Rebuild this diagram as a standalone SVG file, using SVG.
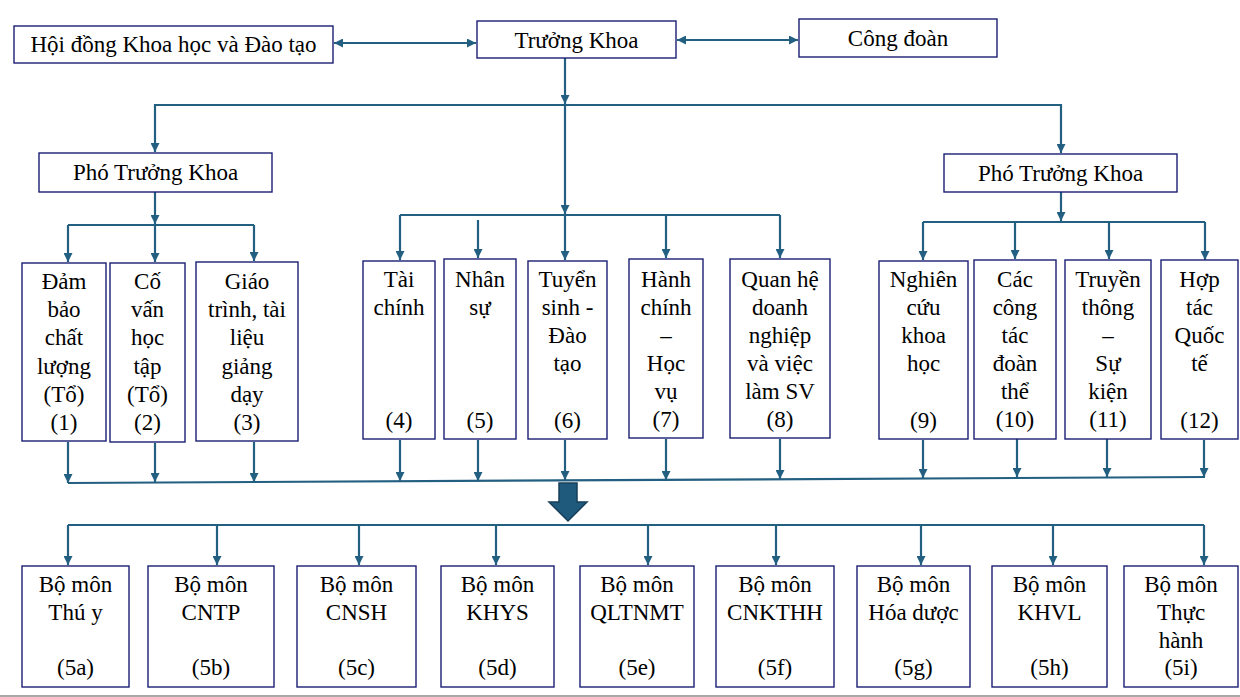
<svg xmlns="http://www.w3.org/2000/svg" width="1240" height="697" viewBox="0 0 1240 697">
<style>
.box{fill:#fff;stroke:#1b1f73;stroke-width:1.4}
.t{font-family:"Liberation Serif","Times New Roman",serif;font-size:23px;fill:#000;text-anchor:middle}
.c{fill:none;stroke:#235f80;stroke-width:2.2}
.ca{fill:none;stroke:#235f80;stroke-width:2.2;marker-end:url(#ah)}
</style>
<defs>
<marker id="ah" viewBox="0 0 10 10" refX="10" refY="5" markerWidth="9" markerHeight="9" markerUnits="userSpaceOnUse" orient="auto-start-reverse">
<path d="M0,0 L10,5 L0,10 z" fill="#235f80"/>
</marker>
</defs>
<rect width="1240" height="697" fill="#fff"/>
<line x1="0" y1="696" x2="1240" y2="696" stroke="#a8a8a8" stroke-width="2"/>

<g id="connectors">
<line class="ca" x1="476" y1="43" x2="334" y2="43" style="marker-start:url(#ah)"/>
<line class="ca" x1="677" y1="40" x2="798" y2="40" style="marker-start:url(#ah)"/>
<path class="ca" d="M565,58 V104"/>
<path class="ca" d="M565,105 H155 V152"/>
<path class="ca" d="M565,105 H1061 V153"/>
<path class="ca" d="M565,105 V214"/>
<path class="c" d="M400,215 H780"/>
<path class="ca" d="M565,215 V260"/>
<path class="ca" d="M400,215 V260"/>
<path class="ca" d="M478,220 V258"/>
<path class="ca" d="M666,215 V258"/>
<path class="ca" d="M780,215 V258"/>
<path class="ca" d="M155,192 V224"/>
<path class="c" d="M68,225 H254"/>
<path class="ca" d="M68,225 V262"/>
<path class="ca" d="M155,225 V262"/>
<path class="ca" d="M254,225 V261"/>
<path class="ca" d="M1061,192 V221"/>
<path class="c" d="M923,222 H1205"/>
<path class="ca" d="M923,222 V260"/>
<path class="ca" d="M1015,222 V259"/>
<path class="ca" d="M1109,222 V259"/>
<path class="ca" d="M1205,222 V260"/>
<path class="c" d="M68,483 L1205,477"/>
<path class="ca" d="M68,442 V483"/>
<path class="ca" d="M155,443 V482"/>
<path class="ca" d="M254,442 V482"/>
<path class="ca" d="M400,440 V481"/>
<path class="ca" d="M478,440 V481"/>
<path class="ca" d="M565,440 V480"/>
<path class="ca" d="M666,439 V480"/>
<path class="ca" d="M780,439 V479"/>
<path class="ca" d="M923,440 V478"/>
<path class="ca" d="M1017,438 V477"/>
<path class="ca" d="M1107,438 V477"/>
<path class="ca" d="M1204,440 V477"/>
<polygon points="559,483 577,483 577,502 587,502 568,521 549,502 559,502" fill="#1f5a7d" stroke="#163f5a" stroke-width="1.5"/>
<path class="c" d="M68,525 H1204"/>
<path class="ca" d="M68,525 V565"/>
<path class="ca" d="M217,525 V565"/>
<path class="ca" d="M359,525 V565"/>
<path class="ca" d="M496,525 V565"/>
<path class="ca" d="M648,525 V565"/>
<path class="ca" d="M776,525 V565"/>
<path class="ca" d="M921,525 V565"/>
<path class="ca" d="M1053,525 V565"/>
<path class="ca" d="M1204,525 V565"/>
</g>

<g id="hoidong"><rect class="box" x="14" y="26" width="319" height="37"/><text class="t" x="173.5" y="52">Hội đồng Khoa học và Đào tạo</text></g>
<g id="truongkhoa"><rect class="box" x="477" y="21" width="199" height="37"/><text class="t" x="576.5" y="48">Trưởng Khoa</text></g>
<g id="congdoan"><rect class="box" x="799" y="19" width="198" height="38"/><text class="t" x="898" y="46">Công đoàn</text></g>
<g id="pho1"><rect class="box" x="39" y="153" width="233" height="39"/><text class="t" x="155.5" y="180">Phó Trưởng Khoa</text></g>
<g id="pho2"><rect class="box" x="944" y="154" width="233" height="38"/><text class="t" x="1060.5" y="181">Phó Trưởng Khoa</text></g>

<g id="n1"><rect class="box" x="22" y="263" width="84" height="178"/>
<text class="t" y="289"><tspan x="64">Đảm</tspan><tspan x="64" dy="28.2">bảo</tspan><tspan x="64" dy="28.2">chất</tspan><tspan x="64" dy="28.2">lượng</tspan><tspan x="64" dy="28.2">(Tổ)</tspan><tspan x="64" dy="28.2">(1)</tspan></text></g>
<g id="n2"><rect class="box" x="110" y="263" width="75" height="179"/>
<text class="t" y="289"><tspan x="147.5">Cố</tspan><tspan x="147.5" dy="28.2">vấn</tspan><tspan x="147.5" dy="28.2">học</tspan><tspan x="147.5" dy="28.2">tập</tspan><tspan x="147.5" dy="28.2">(Tổ)</tspan><tspan x="147.5" dy="28.2">(2)</tspan></text></g>
<g id="n3"><rect class="box" x="196" y="262" width="102" height="179"/>
<text class="t" y="289"><tspan x="247">Giáo</tspan><tspan x="247" dy="28.2">trình, tài</tspan><tspan x="247" dy="28.2">liệu</tspan><tspan x="247" dy="28.2">giảng</tspan><tspan x="247" dy="28.2">dạy</tspan><tspan x="247" dy="28.2">(3)</tspan></text></g>
<g id="n4"><rect class="box" x="363" y="261" width="72" height="178"/>
<text class="t" y="287"><tspan x="399">Tài</tspan><tspan x="399" dy="28">chính</tspan></text><text class="t" x="399" y="428">(4)</text></g>
<g id="n5"><rect class="box" x="444" y="259" width="72" height="180"/>
<text class="t" y="287"><tspan x="480">Nhân</tspan><tspan x="480" dy="28">sự</tspan></text><text class="t" x="480" y="428">(5)</text></g>
<g id="n6"><rect class="box" x="528" y="261" width="79" height="178"/>
<text class="t" y="287"><tspan x="567.5">Tuyển</tspan><tspan x="567.5" dy="28">sinh -</tspan><tspan x="567.5" dy="28">Đào</tspan><tspan x="567.5" dy="28">tạo</tspan></text><text class="t" x="567.5" y="428">(6)</text></g>
<g id="n7"><rect class="box" x="629" y="259" width="74" height="179"/>
<text class="t" y="287"><tspan x="666">Hành</tspan><tspan x="666" dy="28">chính</tspan><tspan x="666" dy="28">–</tspan><tspan x="666" dy="28">Học</tspan><tspan x="666" dy="28">vụ</tspan><tspan x="666" dy="28">(7)</tspan></text></g>
<g id="n8"><rect class="box" x="730" y="259" width="100" height="179"/>
<text class="t" y="287"><tspan x="780">Quan hệ</tspan><tspan x="780" dy="28">doanh</tspan><tspan x="780" dy="28">nghiệp</tspan><tspan x="780" dy="28">và việc</tspan><tspan x="780" dy="28">làm SV</tspan><tspan x="780" dy="28">(8)</tspan></text></g>
<g id="n9"><rect class="box" x="879" y="261" width="89" height="178"/>
<text class="t" y="287"><tspan x="923.5">Nghiên</tspan><tspan x="923.5" dy="28">cứu</tspan><tspan x="923.5" dy="28">khoa</tspan><tspan x="923.5" dy="28">học</tspan></text><text class="t" x="923.5" y="428">(9)</text></g>
<g id="n10"><rect class="box" x="974" y="260" width="82" height="179"/>
<text class="t" y="287"><tspan x="1015">Các</tspan><tspan x="1015" dy="28">công</tspan><tspan x="1015" dy="28">tác</tspan><tspan x="1015" dy="28">đoàn</tspan><tspan x="1015" dy="28">thể</tspan><tspan x="1015" dy="28">(10)</tspan></text></g>
<g id="n11"><rect class="box" x="1065" y="260" width="86" height="179"/>
<text class="t" y="287"><tspan x="1108">Truyền</tspan><tspan x="1108" dy="28">thông</tspan><tspan x="1108" dy="28">–</tspan><tspan x="1108" dy="28">Sự</tspan><tspan x="1108" dy="28">kiện</tspan><tspan x="1108" dy="28">(11)</tspan></text></g>
<g id="n12"><rect class="box" x="1161" y="260" width="77" height="179"/>
<text class="t" y="287"><tspan x="1199.5">Hợp</tspan><tspan x="1199.5" dy="28">tác</tspan><tspan x="1199.5" dy="28">Quốc</tspan><tspan x="1199.5" dy="28">tế</tspan></text><text class="t" x="1199.5" y="428">(12)</text></g>

<g id="b5a"><rect class="box" x="22" y="566" width="107" height="121"/><text class="t" y="592"><tspan x="75.5">Bộ môn</tspan><tspan x="75.5" dy="28">Thú y</tspan></text><text class="t" x="75.5" y="675">(5a)</text></g>
<g id="b5b"><rect class="box" x="148" y="566" width="126" height="121"/><text class="t" y="592"><tspan x="211">Bộ môn</tspan><tspan x="211" dy="28">CNTP</tspan></text><text class="t" x="211" y="675">(5b)</text></g>
<g id="b5c"><rect class="box" x="297" y="566" width="119" height="121"/><text class="t" y="592"><tspan x="356.5">Bộ môn</tspan><tspan x="356.5" dy="28">CNSH</tspan></text><text class="t" x="356.5" y="675">(5c)</text></g>
<g id="b5d"><rect class="box" x="441" y="566" width="113" height="121"/><text class="t" y="592"><tspan x="497.5">Bộ môn</tspan><tspan x="497.5" dy="28">KHYS</tspan></text><text class="t" x="497.5" y="675">(5d)</text></g>
<g id="b5e"><rect class="box" x="580" y="566" width="114" height="121"/><text class="t" y="592"><tspan x="637">Bộ môn</tspan><tspan x="637" dy="28">QLTNMT</tspan></text><text class="t" x="637" y="675">(5e)</text></g>
<g id="b5f"><rect class="box" x="716" y="566" width="118" height="121"/><text class="t" y="592"><tspan x="775">Bộ môn</tspan><tspan x="775" dy="28">CNKTHH</tspan></text><text class="t" x="775" y="675">(5f)</text></g>
<g id="b5g"><rect class="box" x="857" y="566" width="113" height="121"/><text class="t" y="592"><tspan x="913.5">Bộ môn</tspan><tspan x="913.5" dy="28">Hóa dược</tspan></text><text class="t" x="913.5" y="675">(5g)</text></g>
<g id="b5h"><rect class="box" x="992" y="566" width="115" height="121"/><text class="t" y="592"><tspan x="1049.5">Bộ môn</tspan><tspan x="1049.5" dy="28">KHVL</tspan></text><text class="t" x="1049.5" y="675">(5h)</text></g>
<g id="b5i"><rect class="box" x="1124" y="566" width="114" height="121"/><text class="t" y="592"><tspan x="1181">Bộ môn</tspan><tspan x="1181" dy="28">Thực</tspan><tspan x="1181" dy="28">hành</tspan></text><text class="t" x="1181" y="675">(5i)</text></g>
</svg>
